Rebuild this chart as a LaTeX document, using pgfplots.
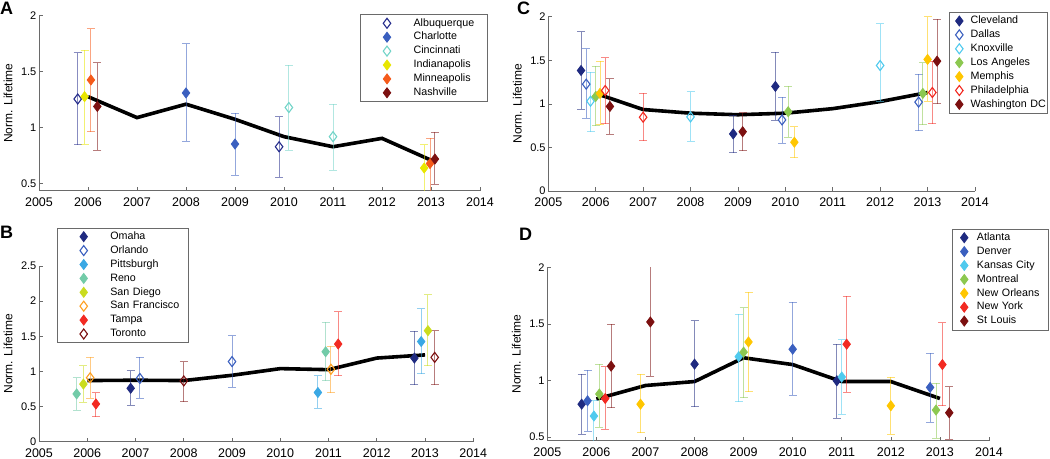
\documentclass[border=0pt]{standalone}
\usepackage{fontspec}
\setmainfont{Liberation Sans}
\usepackage{pgfplots}
\pgfplotsset{compat=1.18}
\definecolor{axgray}{HTML}{6A6A6A}
\definecolor{cNavy}{HTML}{1F2A80}
\definecolor{cNavyA}{HTML}{262D8C}
\definecolor{cBlue}{HTML}{3A5FBF}
\definecolor{cTeal}{HTML}{72D4C8}
\definecolor{cYel}{HTML}{E8E600}
\definecolor{cOrRed}{HTML}{F55A1A}
\definecolor{cDRed}{HTML}{7C1010}
\definecolor{cSky}{HTML}{3AA8E4}
\definecolor{cMint}{HTML}{72CBA8}
\definecolor{cLime}{HTML}{CADC1E}
\definecolor{cOrange}{HTML}{FF9F1F}
\definecolor{cRed}{HTML}{F22A22}
\definecolor{cCyan}{HTML}{50CAEE}
\definecolor{cGreen}{HTML}{8CC850}
\definecolor{cGold}{HTML}{FFC600}
\def\legm{26.7bp}
\def\lega{53.3bp}
\pgfplotsset{
  panel/.style={
    scale only axis,
    axis x line*=bottom, axis y line*=left,
    xmin=2005, xmax=2014, xtick={2005,...,2014},
    tick align=inside, major tick length=4bp,
    axis line style={axgray, line width=0.6bp},
    every tick/.style={axgray, line width=0.6bp},
    /pgf/number format/assume math mode=true,
    xticklabel style={font=\fontsize{12.5bp}{14bp}\selectfont, /pgf/number format/1000 sep={}, inner sep=2bp, yshift=-5bp},
    yticklabel style={font=\fontsize{11bp}{13bp}\selectfont, /pgf/number format/fixed, inner sep=2.5bp},
    ylabel={Norm. Lifetime},
    legend cell align=left,
  },
  lg/.style n args={3}{legend style={at={(axis description cs:#1,#2)}, anchor=north west,
     draw=axgray, line width=0.6bp, fill=white, inner xsep=0bp, inner ysep=3.6bp,
     row sep=3.7bp, column sep=0bp, font=\fontsize{10.7bp}{12bp}\selectfont,
     nodes={inner sep=0bp, text width=#3, text height=7.8bp, text depth=2.4bp, align=left}}},
  ylab/.style={ylabel style={at={(axis description cs:#1,0.5)}, anchor=center, font=\fontsize{12bp}{14bp}\selectfont}},
  avg/.style={black, line width=3.6bp, no markers, forget plot},
  errs/.style={
    error bars/y dir=both, error bars/y explicit, error bars/error mark=-,
    error bars/error bar style={line width=0.9bp, draw opacity=0.55, solid},
    error bars/error mark options={rotate=90, mark size=4bp, line width=0.9bp, draw opacity=0.55}},
  lgimg/.style={legend image code/.code={\path[draw=none,fill=none] (0bp,-5bp) rectangle (\lega,5bp);
     \draw[mark repeat=2,mark phase=2,##1] plot coordinates {(0bp,0bp)(\legm,0bp)(\lega,0bp)};}},
  cf/.style={only marks, color=#1, mark=diamond*, mark size=5bp,
    mark options={solid, fill=#1, draw=#1, line width=0.8bp, draw opacity=1}, lgimg, errs},
  co/.style={only marks, color=#1, mark=diamond, mark size=5bp,
    mark options={solid, fill=white, draw=#1, line width=1.1bp, draw opacity=1}, lgimg, errs},
}
\newcommand{\pts}[2]{\addplot+[#1] table[row sep=\\, y error plus expr=\thisrow{hi}-\thisrow{y}, y error minus expr=\thisrow{y}-\thisrow{lo}] {x y hi lo\\ #2};}
\begin{document}
\begin{tikzpicture}
\useasboundingbox (0,0) rectangle (1050bp,-459bp);
\node[anchor=north west, inner sep=0pt, font=\fontsize{18bp}{18bp}\selectfont\bfseries] at (0bp,-2bp) {A};
\node[anchor=north west, inner sep=0pt, font=\fontsize{18bp}{18bp}\selectfont\bfseries] at (0bp,-226bp) {B};
\node[anchor=north west, inner sep=0pt, font=\fontsize{18bp}{18bp}\selectfont\bfseries] at (517bp,-2bp) {C};
\node[anchor=north west, inner sep=0pt, font=\fontsize{18bp}{18bp}\selectfont\bfseries] at (519bp,-228bp) {D};
% ---------------- A
\begin{axis}[panel, at={(39bp,-190.7bp)}, anchor=south west, width=441bp, height=175bp,
  ymin=0.4375, ymax=2, ytick={0.5,1,1.5,2}, ylab=-0.0703, lg={0.7279}{1.008}{74bp}]
\addplot[avg] coordinates {(2006,1.277)(2007,1.09)(2008,1.21)(2009,1.075)(2010,0.92)(2011,0.83)(2012,0.905)(2013,0.71)};
\pts{co=cNavyA}{2005.79 1.256 1.67 0.85\\ 2009.9 0.83 1.10 0.56\\}
\pts{cf=cBlue}{2008.0 1.31 1.75 0.88\\ 2009.0 0.854 1.128 0.578\\}
\pts{co=cTeal}{2010.1 1.18 1.56 0.80\\ 2011.0 0.92 1.21 0.62\\}
\pts{cf=cYel}{2005.93 1.277 1.69 0.854\\ 2012.86 0.64 0.85 0.40\\}
\pts{cf=cOrRed}{2006.06 1.426 1.884 0.964\\ 2012.98 0.68 0.905 0.40\\}
\pts{cf=cDRed}{2006.19 1.19 1.58 0.80\\ 2013.08 0.72 0.96 0.495\\}
\legend{Albuquerque,Charlotte,Cincinnati,Indianapolis,Minneapolis,Nashville}
\end{axis}
% ---------------- B
\begin{axis}[panel, at={(39bp,-441.7bp)}, anchor=south west, width=434.3bp, height=175.7bp,
  ymin=0, ymax=2.5, ytick={0,0.5,1,1.5,2,2.5}, ylab=-0.0714, lg={0.0408}{1.218}{78bp}]
\addplot[avg] coordinates {(2006,0.87)(2007,0.875)(2008,0.87)(2009,0.945)(2010,1.04)(2011,1.025)(2012,1.19)(2013,1.235)};
\pts{cf=cNavy}{2006.9 0.76 1.007 0.52\\ 2012.78 1.19 1.57 0.81\\}
\pts{co=cBlue}{2007.09 0.90 1.20 0.62\\ 2009.0 1.14 1.505 0.775\\}
\pts{cf=cSky}{2010.78 0.70 0.94 0.475\\ 2012.92 1.425 1.89 0.965\\}
\pts{cf=cMint}{2005.78 0.68 0.91 0.45\\ 2010.94 1.28 1.70 0.87\\}
\pts{cf=cLime}{2005.92 0.82 1.08 0.56\\ 2013.06 1.58 2.09 1.08\\}
\pts{co=cOrange}{2006.06 0.91 1.20 0.62\\ 2011.05 1.03 1.36 0.70\\}
\pts{cf=cRed}{2006.18 0.537 0.70 0.356\\ 2011.2 1.39 1.85 0.94\\}
\pts{co=cDRed}{2008.0 0.865 1.135 0.57\\ 2013.2 1.20 1.58 0.81\\}
\legend{Omaha,Orlando,Pittsburgh,Reno,San Diego,San Francisco,Tampa,Toronto}
\end{axis}
% ---------------- C
\def\legm{9.7bp}
\def\lega{21bp}
\begin{axis}[panel, at={(548.3bp,-191bp)}, anchor=south west, width=426.7bp, height=174.3bp,
  ymin=0, ymax=2, ytick={0,0.5,1,1.5,2}, ylab=-0.0726, lg={0.9398}{1.027}{77bp}]
\addplot[avg] coordinates {(2006,1.12)(2007,0.935)(2008,0.893)(2009,0.875)(2010,0.893)(2011,0.945)(2012,1.026)(2013,1.13)};
\pts{cf=cNavy}{2005.69 1.383 1.83 0.94\\ 2008.9 0.655 0.87 0.44\\ 2009.79 1.20 1.59 0.81\\}
\pts{co=cBlue}{2005.8 1.226 1.63 0.835\\ 2009.93 0.816 1.077 0.548\\ 2012.81 1.02 1.34 0.69\\}
\pts{co=cCyan}{2005.89 1.03 1.36 0.68\\ 2008.0 0.85 1.14 0.57\\ 2012.0 1.44 1.92 1.03\\}
\pts{cf=cGreen}{2006.0 1.084 1.43 0.75\\ 2010.06 0.91 1.20 0.62\\ 2012.9 1.12 1.47 0.76\\}
\pts{cf=cGold}{2006.09 1.12 1.49 0.76\\ 2010.19 0.56 0.74 0.38\\ 2013.0 1.51 2.0 1.03\\}
\pts{co=cRed}{2006.2 1.153 1.53 0.77\\ 2007.0 0.847 1.12 0.578\\ 2013.1 1.13 1.49 0.77\\}
\pts{cf=cDRed}{2006.3 0.97 1.29 0.65\\ 2009.1 0.68 0.90 0.46\\ 2013.2 1.49 1.97 1.0\\}
\legend{Cleveland,Dallas,Knoxville,Los Angeles,Memphis,Philadelphia,Washington DC}
\end{axis}
% ---------------- D
\def\legm{12.3bp}
\def\lega{25bp}
\begin{axis}[panel, at={(547.3bp,-440.7bp)}, anchor=south west, width=441.7bp, height=173.4bp,
  ymin=0.467, ymax=2, ytick={0.5,1,1.5,2}, ylab=-0.0702, lg={0.9155}{1.2226}{71bp}]
\addplot[avg] coordinates {(2006,0.835)(2007,0.955)(2008,0.99)(2009,1.20)(2010,1.14)(2011,0.99)(2012,0.99)(2013,0.84)};
\pts{cf=cNavy}{2005.7 0.79 1.056 0.526\\ 2008.0 1.144 1.526 0.767\\ 2010.9 0.997 1.32 0.665\\}
\pts{cf=cBlue}{2005.82 0.82 1.09 0.553\\ 2010.0 1.276 1.69 0.87\\ 2012.8 0.938 1.24 0.63\\}
\pts{cf=cCyan}{2005.95 0.685 0.82 0.40\\ 2008.9 1.21 1.585 0.81\\ 2011.0 1.03 1.36 0.70\\}
\pts{cf=cGreen}{2006.06 0.88 1.144 0.585\\ 2009.0 1.25 1.644 0.846\\ 2012.92 0.738 0.974 0.49\\}
\pts{cf=cGold}{2006.9 0.79 1.053 0.538\\ 2009.1 1.34 1.78 0.90\\ 2012.0 0.776 1.03 0.523\\}
\pts{cf=cRed}{2006.18 0.84 1.12 0.57\\ 2011.1 1.32 1.746 0.894\\ 2013.05 1.14 1.51 0.776\\}
\pts{cf=cDRed}{2006.3 1.126 1.497 0.76\\ 2007.1 1.517 2.01 1.038\\ 2013.19 0.714 0.944 0.48\\}
\legend{Atlanta,Denver,Kansas City,Montreal,New Orleans,New York,St Louis}
\end{axis}
\end{tikzpicture}
\end{document}
